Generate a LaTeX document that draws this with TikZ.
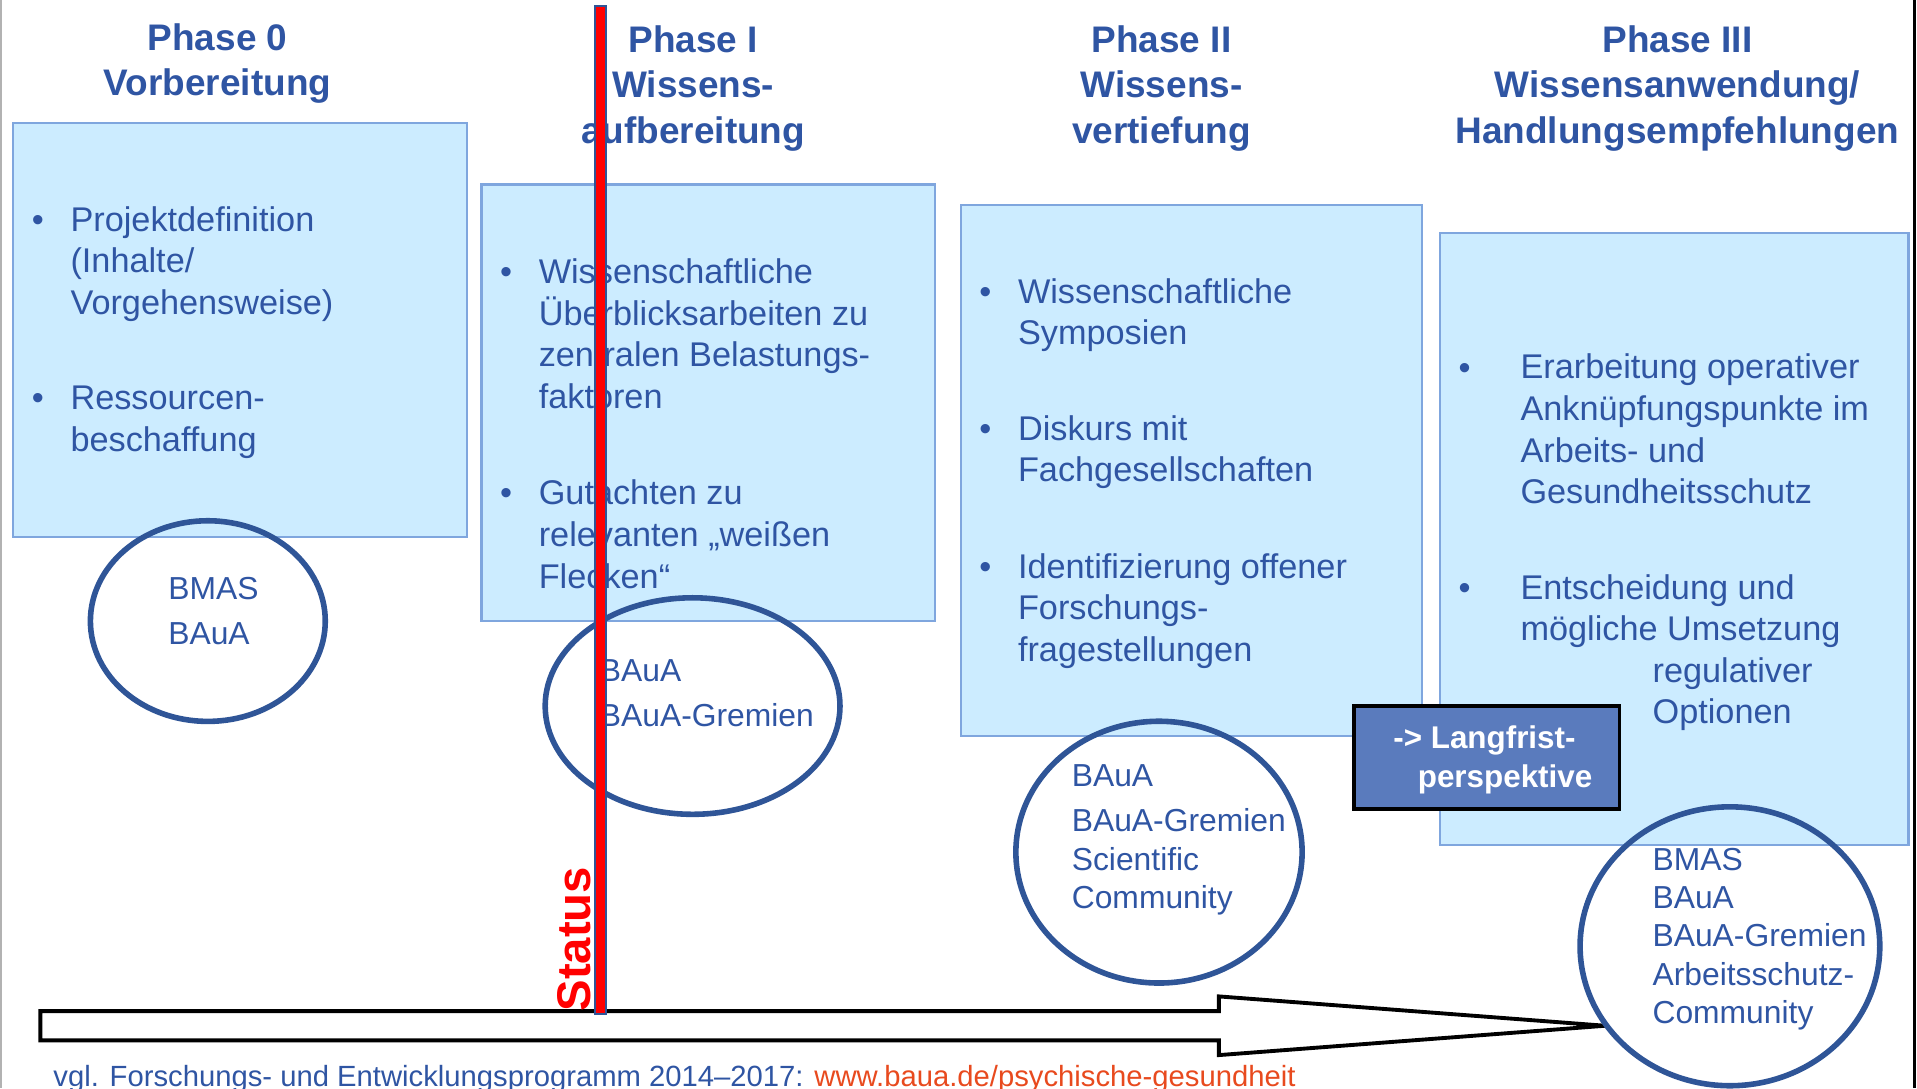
\documentclass[tikz,border=0pt]{standalone}
\usepackage{fontspec}
\setmainfont{Liberation Sans}
\usepackage{xcolor}
\usepackage{tikz}
\usetikzlibrary{positioning,calc,shapes.geometric}
\definecolor{BAUblue}{HTML}{2F55A3}
\definecolor{BAUring}{HTML}{2F5597}
\definecolor{BAUfill}{HTML}{CCECFF}
\definecolor{BAUline}{HTML}{7FA6DE}
\definecolor{BAUlang}{HTML}{5A7BBD}
\definecolor{BAUorange}{HTML}{E84A1E}
\definecolor{BAUred}{HTML}{FF0000}
\tikzset{
  phasehead/.style={font=\fontsize{8.6}{10.5}\selectfont\bfseries, text=BAUblue, align=center, inner sep=0pt, anchor=base},
  phasebox/.style={draw=BAUline, fill=BAUfill, line width=0.5pt, inner sep=0pt, anchor=north west},
  itemdot/.style={font=\fontsize{7.97}{9.67}\selectfont, text=BAUblue, inner sep=0pt, anchor=base},
  itemtext/.style={font=\fontsize{7.97}{9.67}\selectfont, text=BAUblue, align=left, inner sep=0pt, anchor=base west},
  actorring/.style={ellipse, draw=BAUring, line width=1.3pt, inner sep=0pt},
  actortext/.style={font=\fontsize{7.4}{10.5}\selectfont, text=BAUblue, align=left, inner sep=0pt, anchor=base west},
  actortight/.style={actortext, font=\fontsize{7.4}{8.9}\selectfont},
  langbox/.style={draw=black, fill=BAUlang, line width=0.9pt, inner sep=0pt, anchor=north west},
  langtext/.style={font=\fontsize{7.3}{9.1}\selectfont\bfseries, text=white, align=left, inner sep=0pt, anchor=base west},
  statusbar/.style={draw=BAUring, fill=BAUred, line width=0.5pt, inner sep=0pt, anchor=north},
  statustext/.style={font=\fontsize{11}{13}\selectfont\bfseries, text=BAUred, inner sep=0pt, rotate=90, anchor=base west},
  timearrow/.style={draw=black, fill=white, line width=0.9pt, line join=miter},
  sourcetext/.style={font=\fontsize{6.8}{8}\selectfont, text=BAUblue, inner sep=0pt, anchor=base west}
}
\begin{document}
\begin{tikzpicture}[x=0.01cm, y=-0.01cm]
  \useasboundingbox (0,0) rectangle (1568,890);
  \clip (0,0) rectangle (1568,890);
  \draw[gray!60, line width=0.6pt] (0.5,0) -- (0.5,890);
  \draw[black, line width=0.6pt] (1566,0) -- (1566,890);

  \node[phasehead] (h0) at (178,78) {Phase 0\\Vorbereitung};
  \node[phasehead] (h1) at (567,117) {Phase I\\Wissens-\\aufbereitung};
  \node[phasehead] (h2) at (950,117) {Phase II\\Wissens-\\vertiefung};
  \node[phasehead] (h3) at (1372,117) {Phase III\\Wissensanwendung/\\Handlungsempfehlungen};

  \node[phasebox, minimum width=3.71cm, minimum height=3.38cm] (b0) at (10,100) {};
  \node[phasebox, minimum width=3.71cm, minimum height=3.57cm] (b1) at (393,150) {};
  \node[phasebox, minimum width=3.77cm, minimum height=4.34cm] (b2) at (785,167) {};
  \node[phasebox, minimum width=3.83cm, minimum height=5.00cm] (b3) at (1177,190) {};

  \node[itemdot] (d0a) at (31,189) {•};
  \node[itemtext] (t0a) at (57,257) {Projektdefinition\\(Inhalte/\\Vorgehensweise)};
  \node[itemdot] (d0b) at (31,335) {•};
  \node[itemtext] (t0b) at (57,369) {Ressourcen-\\beschaffung};

  \node[itemdot] (d1a) at (414,232) {•};
  \node[itemtext] (t1a) at (440,334) {Wissenschaftliche\\Überblicksarbeiten zu\\zentralen Belastungs-\\faktoren};
  \node[itemdot] (d1b) at (414,413) {•};
  \node[itemtext] (t1b) at (440,481) {Gutachten zu\\relevanten „weißen\\Flecken“};

  \node[itemdot] (d2a) at (806,248) {•};
  \node[itemtext] (t2a) at (832,282) {Wissenschaftliche\\Symposien};
  \node[itemdot] (d2b) at (806,360) {•};
  \node[itemtext] (t2b) at (832,394) {Diskurs mit\\Fachgesellschaften};
  \node[itemdot] (d2c) at (806,473) {•};
  \node[itemtext] (t2c) at (832,541) {Identifizierung offener\\Forschungs-\\fragestellungen};

  \node[itemdot] (d3a) at (1198,310) {•};
  \node[itemtext] (t3a) at (1243,412) {Erarbeitung operativer\\Anknüpfungspunkte im\\Arbeits- und\\Gesundheitsschutz};
  \node[itemdot] (d3b) at (1198,490) {•};
  \node[itemtext] (t3b) at (1243,592) {Entscheidung und\\mögliche Umsetzung\\\hspace*{1.08cm}regulativer\\\hspace*{1.08cm}Optionen};

  \coordinate (tip) at (1313,839);
  \draw[timearrow] (33,827) -- (997,827) -- (997,815) -- (tip) -- (997,863) -- (997,851) -- (33,851) -- cycle;

  \node[actorring, minimum width=1.92cm, minimum height=1.64cm] (e0) at (170,508) {};
  \node[actorring, minimum width=2.41cm, minimum height=1.77cm] (e1) at (566.5,577.5) {};
  \node[actorring, minimum width=2.34cm, minimum height=2.14cm] (e2) at (948,697) {};
  \node[actorring, minimum width=2.45cm, minimum height=2.28cm] (e3) at (1415,774) {};
  \node[actortext] (a0) at (137,527) {BMAS\\BAuA};
  \node[actortext] (a1) at (490,594) {BAuA\\BAuA-Gremien};
  \node[actortight] (a2) at (876,743) {BAuA\\[1.6pt]BAuA-Gremien\\Scientific\\Community};
  \node[actortight] (a3) at (1351,837) {BMAS\\BAuA\\BAuA-Gremien\\Arbeitsschutz-\\Community};

  \node[langbox, minimum width=2.17cm, minimum height=0.84cm] (lang) at (1106,576) {};
  \node[langtext] (langlbl) at (1139,644) {-> Langfrist-\\\hspace*{0.2cm}perspektive};

  \node[statusbar, minimum width=0.09cm, minimum height=8.24cm] (status) at (491,4) {};
  \node[statustext] (statuslbl) at (483,828) {Status};

  \node[sourcetext] (src) at (43,889) {vgl. Forschungs- und Entwicklungsprogramm 2014–2017: \textcolor{BAUorange}{www.baua.de/psychische-gesundheit}};
\end{tikzpicture}
\end{document}
